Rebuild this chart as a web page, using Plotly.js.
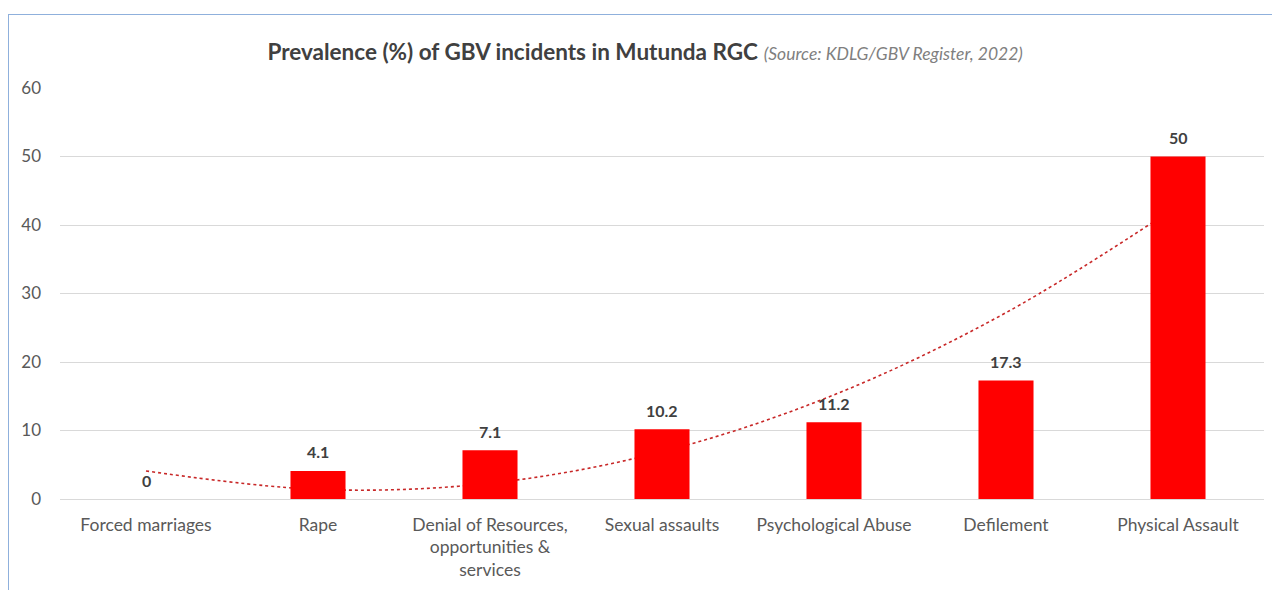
<!DOCTYPE html>
<html>
<head>
<meta charset="utf-8">
<script src="https://cdn.plot.ly/plotly-3.0.1.min.js"></script>
<style>
  html, body { margin: 0; padding: 0; background: #ffffff; }
  #wrap { position: relative; width: 1272px; height: 590px; overflow: hidden; }
  #frame { position: absolute; left: 8px; top: 14px; width: 1270px; height: 580px;
           border-top: 1px solid #8fb0dc; border-left: 1px solid #8fb0dc; }
  #chart { position: absolute; left: 0; top: 0; width: 1272px; height: 590px; }
</style>
</head>
<body>
<div id="wrap">
  <div id="frame"></div>
  <div id="chart"></div>
</div>
<script>
// ---- data ----
const categories = [
  "Forced marriages",
  "Rape",
  "Denial of Resources,<br>opportunities &<br>services",
  "Sexual assaults",
  "Psychological Abuse",
  "Defilement",
  "Physical Assault"
];
const prevalence = [0, 4.1, 7.1, 10.2, 11.2, 17.3, 50];
const valueLabels = ["0", "4.1", "7.1", "10.2", "11.2", "17.3", "50"];
// polynomial trendline values at each category
const trendValues = [4.1, 1.4, 2.3, 6.9, 15.2, 27.2, 42.8];
const yTicks = [0, 10, 20, 30, 40, 50, 60];

const positions = categories.map((c, i) => i + 1);

const trend = {
  type: "scatter",
  mode: "lines",
  x: positions,
  y: trendValues,
  xaxis: "x",
  yaxis: "y",
  line: { color: "rgb(200,40,40)", width: 1.6, dash: "dot", shape: "spline", smoothing: 1 },
  hoverinfo: "skip",
  showlegend: false
};

const bars = {
  type: "bar",
  x: positions,
  y: prevalence,
  xaxis: "x2",
  yaxis: "y2",
  width: 0.32,
  marker: { color: "#ff0000", line: { width: 0 } },
  showlegend: false
};

const annotations = positions.map((p, i) => ({
  x: p, y: prevalence[i], xref: "x", yref: "y",
  text: "<b>" + valueLabels[i] + "</b>",
  showarrow: false, yanchor: "middle", yshift: 19,
  font: { family: "Lato, 'Noto Sans', sans-serif", size: 16, color: "#404040" }
}));

const layout = {
  width: 1272,
  height: 590,
  margin: { l: 60, r: 8, t: 88, b: 91 },
  paper_bgcolor: "rgba(0,0,0,0)",
  plot_bgcolor: "rgba(0,0,0,0)",
  title: {
    text: "<b>Prevalence (%) of GBV incidents in Mutunda RGC</b> <i><span style='font-size:17.5px;color:#7f7f7f'>(Source: KDLG/GBV Register, 2022)</span></i>",
    font: { family: "Lato, 'Noto Sans', sans-serif", size: 22.5, color: "#404040" },
    x: 0.486, xanchor: "center",
    y: 0.912, yanchor: "middle", xref: "paper", yref: "container"
  },
  xaxis: {
    range: [0.5, 7.5],
    tickmode: "array",
    tickvals: positions,
    ticktext: categories,
    showgrid: false,
    zeroline: false,
    showline: false,
    ticks: "",
    ticklabelstandoff: 13,
    tickfont: { family: "Lato, 'Noto Sans', sans-serif", size: 17.5, color: "#595959" },
    fixedrange: true
  },
  yaxis: {
    range: [0, 60],
    tickmode: "array",
    tickvals: yTicks,
    ticktext: yTicks.map(String),
    showgrid: true,
    gridcolor: "#d9d9d9",
    gridwidth: 1,
    zeroline: true,
    zerolinecolor: "#d9d9d9",
    zerolinewidth: 1,
    showline: false,
    ticks: "",
    ticklabelstandoff: 18,
    tickfont: { family: "Lato, 'Noto Sans', sans-serif", size: 17, color: "#595959" },
    fixedrange: true
  },
  xaxis2: {
    overlaying: "x",
    range: [0.5, 7.5],
    visible: false,
    fixedrange: true
  },
  yaxis2: {
    overlaying: "y",
    range: [0, 60],
    visible: false,
    fixedrange: true
  },
  annotations: annotations,
  showlegend: false
};

Plotly.newPlot("chart", [trend, bars], layout, { displayModeBar: false, staticPlot: true });
</script>
</body>
</html>
